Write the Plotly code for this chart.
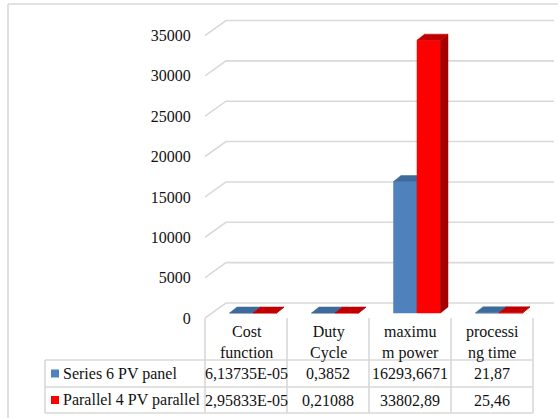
import plotly.graph_objects as go

# ---------------- data ----------------
categories = ["Cost<br>function", "Duty<br>Cycle", "maximu<br>m power", "processi<br>ng time"]
series_names = ["Series 6 PV panel", "Parallel 4 PV parallel"]
series_6_pv = [6.13735e-05, 0.3852, 16293.6671, 21.87]
parallel_4_pv = [2.95833e-05, 0.21088, 33802.89, 25.46]
y_ticks = [0, 5000, 10000, 15000, 20000, 25000, 30000, 35000]

series_values = [series_6_pv, parallel_4_pv]

# ---------------- styling / layout constants ----------------
W, H = 558, 418
L, R, T, B = 205, 4, 14, 100          # margins (px)
PW = W - L - R                          # plot width px
PH = H - T - B                          # plot height px
CAT_PX = 82.0                           # px per category
VAL_PX = 282.5 / 35000.0                # px per value unit
X_RANGE = PW / CAT_PX
Y_RANGE = PH / VAL_PX

def dx(px):
    return px / CAT_PX

def dy(px):
    return px / VAL_PX

FONT = "Liberation Serif"
GRID = "#d9d9d9"
front_cols = ["#4f81bd", "#ff0000"]
side_cols = ["#3a6595", "#a50000"]
top_cols = ["#3f6a9c", "#c00000"]

def paper_x(px):
    return (px - L) / PW

def paper_y(py):
    return (H - B - py) / PH

def fmt(v):
    s = f"{v:.5E}" if abs(v) < 1e-3 else repr(v)
    return s.replace(".", ",")

def tfont():
    return dict(family=FONT, size=16, color="#111111")

fig = go.Figure()

# back wall / side wall gridlines (pseudo 3D)
gx, gy = [], []
for v in y_ticks:
    gx += [0, dx(21), X_RANGE, None]
    gy += [v, v + dy(15), v + dy(15), None]
fig.add_trace(go.Scatter(x=gx, y=gy, mode="lines", line=dict(color=GRID, width=1.6),
                         hoverinfo="skip", showlegend=False))

# 3D bars
BASE = dy(5)
BW = dx(23.5)
DDX, DDY = dx(7.5), dy(6)
for s, vals in enumerate(series_values):
    fx, fy, sx, sy, tx, ty = [], [], [], [], [], []
    for i, v in enumerate(vals):
        x0 = i + dx(17.5 + 7) + s * BW
        x1 = x0 + BW
        b = BASE
        t = BASE + v
        fx += [x0, x1, x1, x0, x0, None]
        fy += [b, b, t, t, b, None]
        sx += [x1, x1 + DDX, x1 + DDX, x1, x1, None]
        sy += [b, b + DDY, t + DDY, t, b, None]
        tx += [x0, x1, x1 + DDX, x0 + DDX, x0, None]
        ty += [t, t, t + DDY, t + DDY, t, None]
    for xs, ys, c in ((fx, fy, front_cols[s]), (sx, sy, side_cols[s]), (tx, ty, top_cols[s])):
        fig.add_trace(go.Scatter(x=xs, y=ys, mode="lines", fill="toself", fillcolor=c,
                                 line=dict(color=c, width=0.5), hoverinfo="skip",
                                 showlegend=False, name=series_names[s]))

shapes = []
line_style = dict(color=GRID, width=1.6)
# outer chart border (left & top)
shapes.append(dict(type="line", xref="paper", yref="paper", x0=paper_x(8), x1=paper_x(8),
                   y0=paper_y(4), y1=paper_y(H + 5), line=line_style))
shapes.append(dict(type="line", xref="paper", yref="paper", x0=paper_x(8), x1=paper_x(W + 5),
                   y0=paper_y(4), y1=paper_y(4), line=line_style))

# data table grid
ROW_TOP, ROW_MID, ROW_BOT = 360, 387, 413
TABLE_LEFT = 45
for i in range(len(categories) + 1):
    xp = paper_x(L + i * CAT_PX)
    shapes.append(dict(type="line", xref="paper", yref="paper", x0=xp, x1=xp,
                       y0=paper_y(318), y1=paper_y(ROW_BOT), line=line_style))
for py in (ROW_TOP, ROW_MID, ROW_BOT):
    shapes.append(dict(type="line", xref="paper", yref="paper", x0=paper_x(TABLE_LEFT),
                       x1=paper_x(L + len(categories) * CAT_PX), y0=paper_y(py), y1=paper_y(py),
                       line=line_style))
shapes.append(dict(type="line", xref="paper", yref="paper", x0=paper_x(TABLE_LEFT),
                   x1=paper_x(TABLE_LEFT), y0=paper_y(ROW_TOP), y1=paper_y(ROW_BOT), line=line_style))

annotations = []
for i, c in enumerate(categories):
    annotations.append(dict(xref="paper", yref="paper", x=paper_x(L + (i + 0.5) * CAT_PX),
                            y=paper_y(342), text=c, showarrow=False, font=tfont(),
                            xanchor="center", yanchor="middle"))
row_centers = [(ROW_TOP + ROW_MID) / 2, (ROW_MID + ROW_BOT) / 2]
for s, vals in enumerate(series_values):
    yc = row_centers[s]
    shapes.append(dict(type="rect", xref="paper", yref="paper", x0=paper_x(51), x1=paper_x(59),
                       y0=paper_y(yc - 4), y1=paper_y(yc + 4), fillcolor=front_cols[s],
                       line=dict(width=0)))
    annotations.append(dict(xref="paper", yref="paper", x=paper_x(61), y=paper_y(yc),
                            text=series_names[s], showarrow=False, font=tfont(),
                            xanchor="left", yanchor="middle"))
    for i, v in enumerate(vals):
        annotations.append(dict(xref="paper", yref="paper", x=paper_x(L + (i + 0.5) * CAT_PX),
                                y=paper_y(yc), text=fmt(v), showarrow=False, font=tfont(),
                                xanchor="center", yanchor="middle"))

fig.update_layout(
    width=W, height=H,
    margin=dict(l=L, r=R, t=T, b=B, pad=0),
    paper_bgcolor="white", plot_bgcolor="white",
    showlegend=False,
    font=dict(family=FONT, size=16, color="#111111"),
    xaxis=dict(range=[0, X_RANGE], visible=False, fixedrange=True),
    yaxis=dict(range=[0, Y_RANGE], tickvals=y_ticks, ticktext=[str(v) for v in y_ticks],
               showgrid=False, zeroline=False, showline=False, ticks="outside", ticklen=10,
               tickcolor="rgba(0,0,0,0)", tickfont=tfont(), fixedrange=True),
    shapes=shapes, annotations=annotations,
)

fig.write_html("out.html", config={"displayModeBar": False},
               post_script="document.body.style.margin='0';document.body.style.overflow='hidden';")
